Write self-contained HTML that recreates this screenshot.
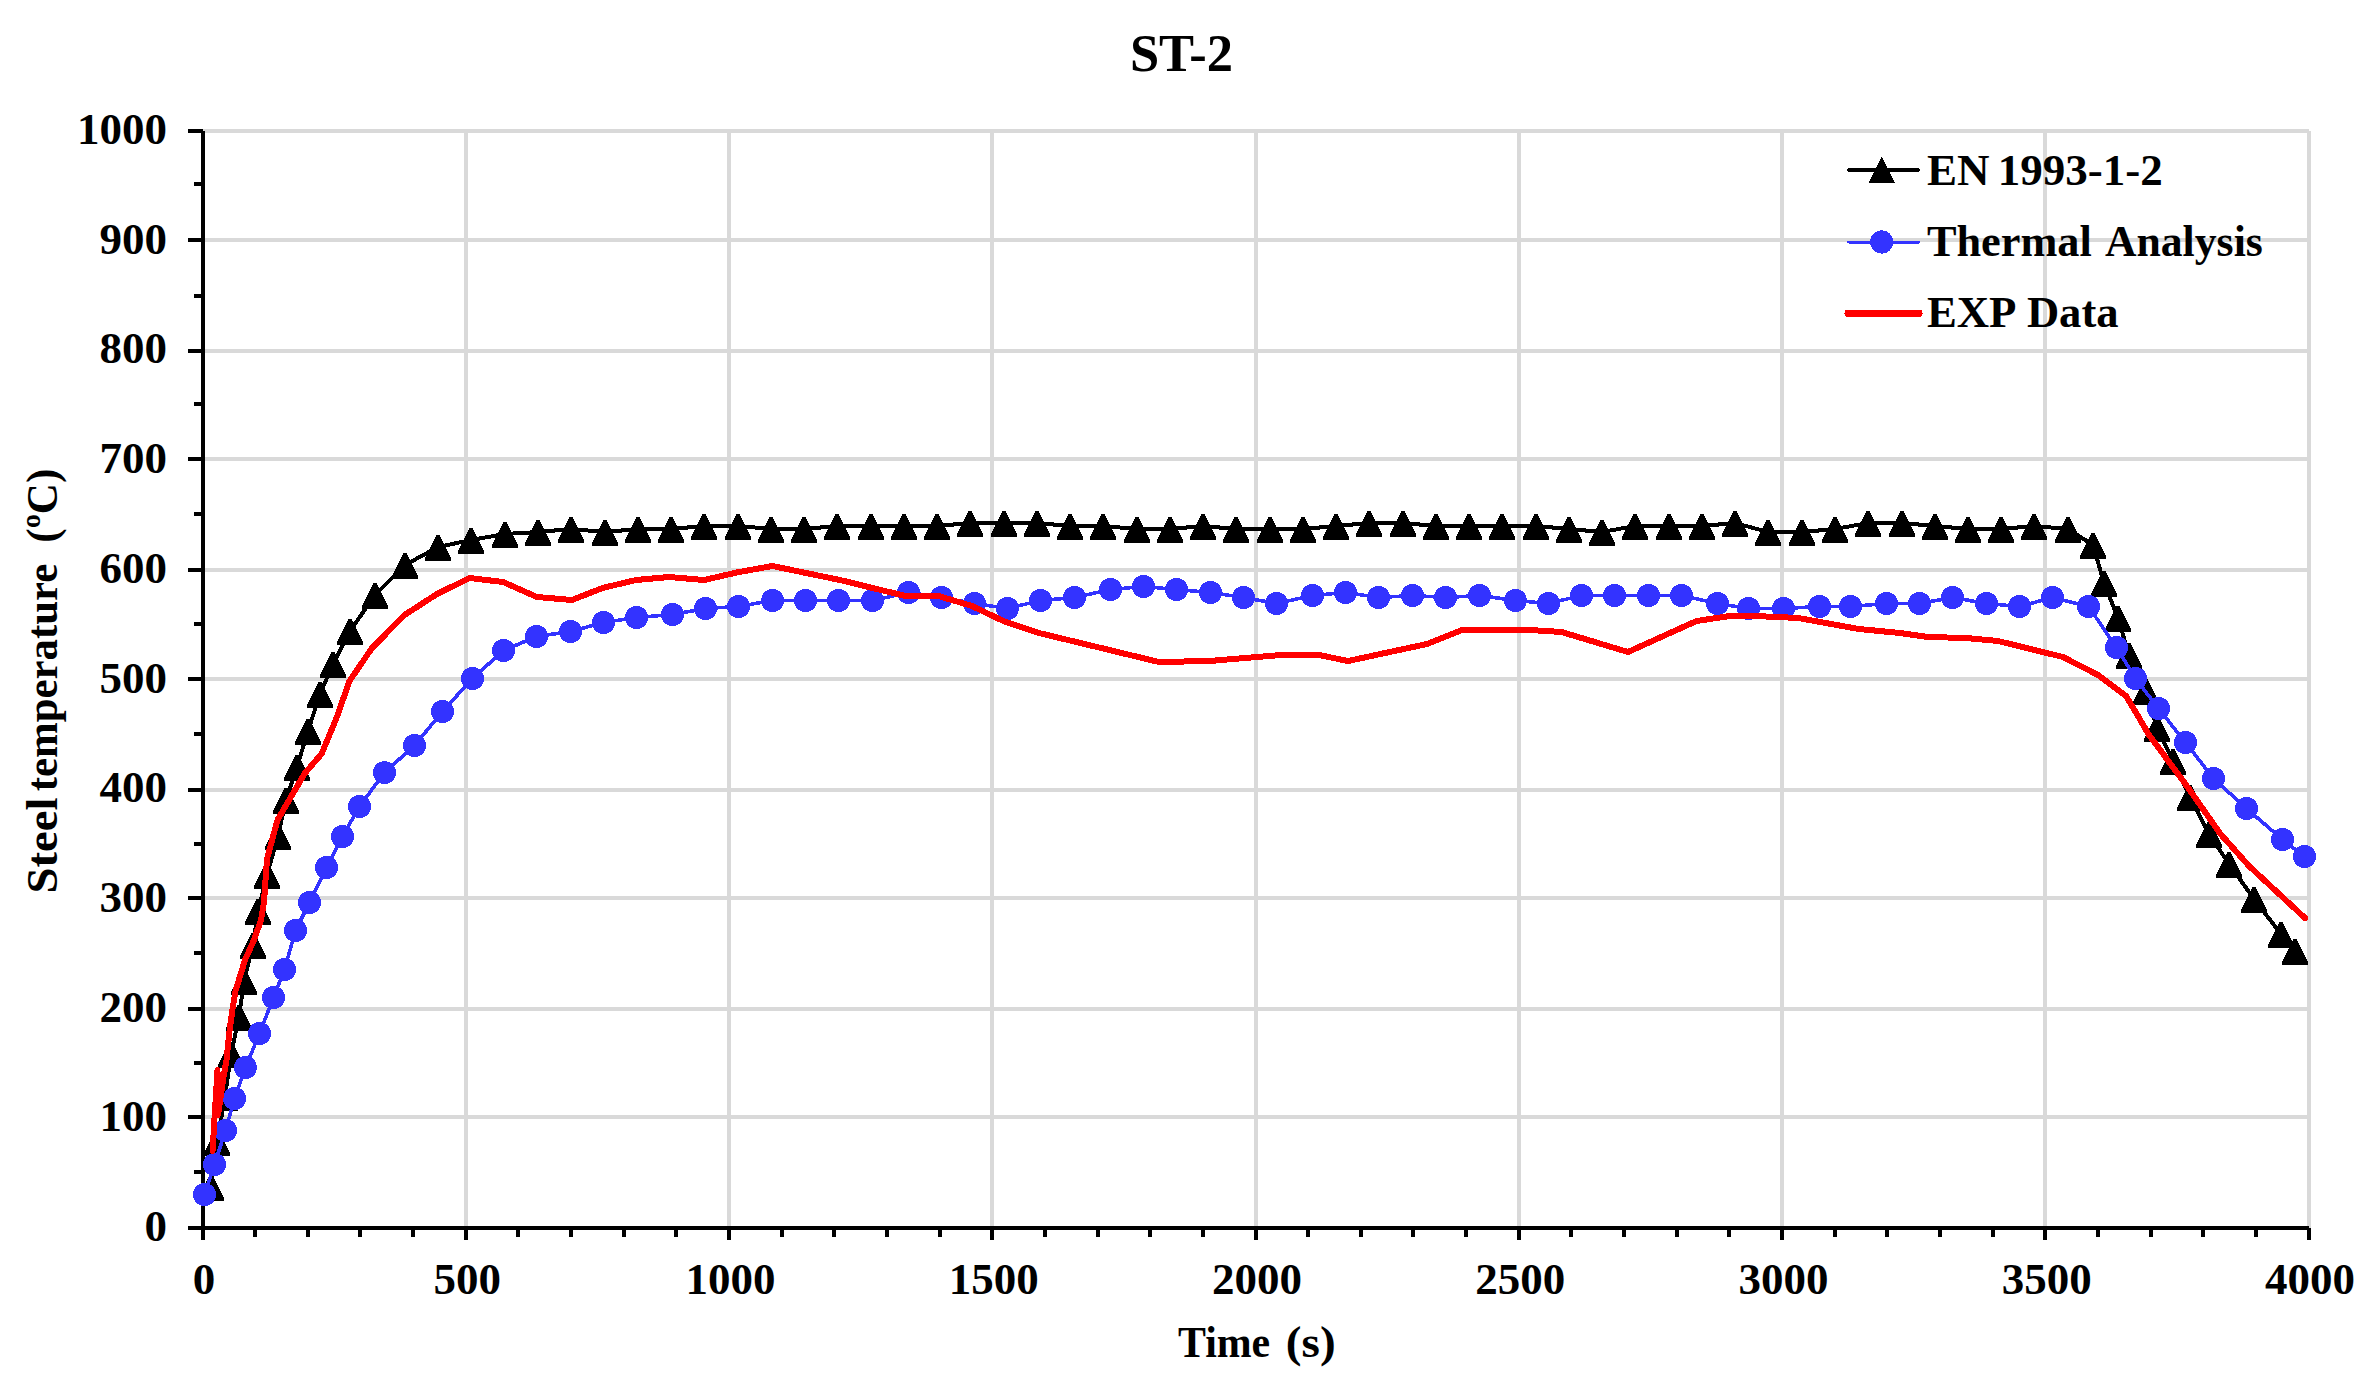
<!DOCTYPE html>
<html lang="en"><head><meta charset="utf-8"><title>ST-2</title>
<style>
html,body{margin:0;padding:0;background:#fff;}
body{width:2371px;height:1386px;overflow:hidden;}
svg{display:block;}
text{font-family:"Liberation Serif","Times New Roman",serif;font-weight:bold;fill:#000;}
.tk{font-size:45px;}.ls{letter-spacing:-0.25px;}
.grid line{stroke:#D9D9D9;stroke-width:4;}
.ax line{stroke:#000;stroke-width:4;}
</style></head><body>
<svg width="2371" height="1386" viewBox="0 0 2371 1386" shape-rendering="crispEdges">
<rect width="2371" height="1386" fill="#fff"/>
<g class="grid">
<line x1="203.0" y1="1117.0" x2="2309.0" y2="1117.0"/>
<line x1="203.0" y1="1009.0" x2="2309.0" y2="1009.0"/>
<line x1="203.0" y1="898.0" x2="2309.0" y2="898.0"/>
<line x1="203.0" y1="790.0" x2="2309.0" y2="790.0"/>
<line x1="203.0" y1="679.0" x2="2309.0" y2="679.0"/>
<line x1="203.0" y1="570.0" x2="2309.0" y2="570.0"/>
<line x1="203.0" y1="459.0" x2="2309.0" y2="459.0"/>
<line x1="203.0" y1="351.0" x2="2309.0" y2="351.0"/>
<line x1="203.0" y1="240.0" x2="2309.0" y2="240.0"/>
<line x1="203.0" y1="131.0" x2="2309.0" y2="131.0"/>
<line x1="466.0" y1="131.0" x2="466.0" y2="1228.0"/>
<line x1="729.0" y1="131.0" x2="729.0" y2="1228.0"/>
<line x1="992.0" y1="131.0" x2="992.0" y2="1228.0"/>
<line x1="1256.0" y1="131.0" x2="1256.0" y2="1228.0"/>
<line x1="1519.0" y1="131.0" x2="1519.0" y2="1228.0"/>
<line x1="1782.0" y1="131.0" x2="1782.0" y2="1228.0"/>
<line x1="2045.0" y1="131.0" x2="2045.0" y2="1228.0"/>
<line x1="2309.0" y1="131.0" x2="2309.0" y2="1228.0"/>
</g>
<g class="ax">
<line x1="203.0" y1="131.0" x2="203.0" y2="1240.0"/>
<line x1="188.0" y1="1228.0" x2="2309.0" y2="1228.0"/>
<line x1="188.0" y1="1228.0" x2="203.0" y2="1228.0"/>
<line x1="194.0" y1="1172.0" x2="203.0" y2="1172.0"/>
<line x1="188.0" y1="1117.0" x2="203.0" y2="1117.0"/>
<line x1="194.0" y1="1063.0" x2="203.0" y2="1063.0"/>
<line x1="188.0" y1="1009.0" x2="203.0" y2="1009.0"/>
<line x1="194.0" y1="953.0" x2="203.0" y2="953.0"/>
<line x1="188.0" y1="898.0" x2="203.0" y2="898.0"/>
<line x1="194.0" y1="844.0" x2="203.0" y2="844.0"/>
<line x1="188.0" y1="790.0" x2="203.0" y2="790.0"/>
<line x1="194.0" y1="734.0" x2="203.0" y2="734.0"/>
<line x1="188.0" y1="679.0" x2="203.0" y2="679.0"/>
<line x1="194.0" y1="624.0" x2="203.0" y2="624.0"/>
<line x1="188.0" y1="570.0" x2="203.0" y2="570.0"/>
<line x1="194.0" y1="514.0" x2="203.0" y2="514.0"/>
<line x1="188.0" y1="459.0" x2="203.0" y2="459.0"/>
<line x1="194.0" y1="404.0" x2="203.0" y2="404.0"/>
<line x1="188.0" y1="351.0" x2="203.0" y2="351.0"/>
<line x1="194.0" y1="296.0" x2="203.0" y2="296.0"/>
<line x1="188.0" y1="240.0" x2="203.0" y2="240.0"/>
<line x1="194.0" y1="184.0" x2="203.0" y2="184.0"/>
<line x1="188.0" y1="131.0" x2="203.0" y2="131.0"/>
<line x1="203.0" y1="1228.0" x2="203.0" y2="1240.0"/>
<line x1="255.0" y1="1228.0" x2="255.0" y2="1237.0"/>
<line x1="308.0" y1="1228.0" x2="308.0" y2="1237.0"/>
<line x1="360.0" y1="1228.0" x2="360.0" y2="1237.0"/>
<line x1="413.0" y1="1228.0" x2="413.0" y2="1237.0"/>
<line x1="466.0" y1="1228.0" x2="466.0" y2="1240.0"/>
<line x1="518.0" y1="1228.0" x2="518.0" y2="1237.0"/>
<line x1="571.0" y1="1228.0" x2="571.0" y2="1237.0"/>
<line x1="624.0" y1="1228.0" x2="624.0" y2="1237.0"/>
<line x1="676.0" y1="1228.0" x2="676.0" y2="1237.0"/>
<line x1="729.0" y1="1228.0" x2="729.0" y2="1240.0"/>
<line x1="782.0" y1="1228.0" x2="782.0" y2="1237.0"/>
<line x1="834.0" y1="1228.0" x2="834.0" y2="1237.0"/>
<line x1="887.0" y1="1228.0" x2="887.0" y2="1237.0"/>
<line x1="940.0" y1="1228.0" x2="940.0" y2="1237.0"/>
<line x1="992.0" y1="1228.0" x2="992.0" y2="1240.0"/>
<line x1="1045.0" y1="1228.0" x2="1045.0" y2="1237.0"/>
<line x1="1098.0" y1="1228.0" x2="1098.0" y2="1237.0"/>
<line x1="1150.0" y1="1228.0" x2="1150.0" y2="1237.0"/>
<line x1="1203.0" y1="1228.0" x2="1203.0" y2="1237.0"/>
<line x1="1256.0" y1="1228.0" x2="1256.0" y2="1240.0"/>
<line x1="1308.0" y1="1228.0" x2="1308.0" y2="1237.0"/>
<line x1="1361.0" y1="1228.0" x2="1361.0" y2="1237.0"/>
<line x1="1413.0" y1="1228.0" x2="1413.0" y2="1237.0"/>
<line x1="1466.0" y1="1228.0" x2="1466.0" y2="1237.0"/>
<line x1="1519.0" y1="1228.0" x2="1519.0" y2="1240.0"/>
<line x1="1571.0" y1="1228.0" x2="1571.0" y2="1237.0"/>
<line x1="1624.0" y1="1228.0" x2="1624.0" y2="1237.0"/>
<line x1="1677.0" y1="1228.0" x2="1677.0" y2="1237.0"/>
<line x1="1729.0" y1="1228.0" x2="1729.0" y2="1237.0"/>
<line x1="1782.0" y1="1228.0" x2="1782.0" y2="1240.0"/>
<line x1="1835.0" y1="1228.0" x2="1835.0" y2="1237.0"/>
<line x1="1887.0" y1="1228.0" x2="1887.0" y2="1237.0"/>
<line x1="1940.0" y1="1228.0" x2="1940.0" y2="1237.0"/>
<line x1="1993.0" y1="1228.0" x2="1993.0" y2="1237.0"/>
<line x1="2045.0" y1="1228.0" x2="2045.0" y2="1240.0"/>
<line x1="2098.0" y1="1228.0" x2="2098.0" y2="1237.0"/>
<line x1="2151.0" y1="1228.0" x2="2151.0" y2="1237.0"/>
<line x1="2203.0" y1="1228.0" x2="2203.0" y2="1237.0"/>
<line x1="2256.0" y1="1228.0" x2="2256.0" y2="1237.0"/>
<line x1="2309.0" y1="1228.0" x2="2309.0" y2="1240.0"/>
</g>
<g class="tk" text-anchor="end">
<text x="167" y="1241.0">0</text>
<text x="167" y="1131.3">100</text>
<text x="167" y="1021.6">200</text>
<text x="167" y="911.9">300</text>
<text x="167" y="802.2">400</text>
<text x="167" y="692.5">500</text>
<text x="167" y="582.8">600</text>
<text x="167" y="473.1">700</text>
<text x="167" y="363.4">800</text>
<text x="167" y="253.7">900</text>
<text x="167" y="144.0">1000</text>
</g>
<g class="tk" text-anchor="middle">
<text x="204.0" y="1294">0</text>
<text x="467.2" y="1294">500</text>
<text x="730.5" y="1294">1000</text>
<text x="993.8" y="1294">1500</text>
<text x="1257.0" y="1294">2000</text>
<text x="1520.2" y="1294">2500</text>
<text x="1783.5" y="1294">3000</text>
<text x="2046.8" y="1294">3500</text>
<text x="2310.0" y="1294">4000</text>
</g>
<text transform="translate(0,71.0)" font-size="52.5"><tspan x="1129.9">ST-2</tspan></text>
<text transform="translate(0,1357.0)" font-size="45"><tspan x="1178.0" textLength="92.2" lengthAdjust="spacingAndGlyphs">Time</tspan> <tspan x="1285.8" textLength="49.8" lengthAdjust="spacingAndGlyphs">(s)</tspan></text>
<text transform="translate(57.0,0) rotate(-90)" font-size="45"><tspan x="-893.5" textLength="95.9" lengthAdjust="spacingAndGlyphs">Steel</tspan> <tspan x="-791.2" textLength="227.4" lengthAdjust="spacingAndGlyphs">temperature</tspan> <tspan x="-542.7" textLength="73.9" lengthAdjust="spacingAndGlyphs">(ºC)</tspan></text>
<g>
<polyline fill="none" stroke="#000" stroke-width="4" stroke-linejoin="round" stroke-linecap="round" points="211.0,1187.0 217.0,1142.0 225.0,1097.0 231.0,1054.0 239.0,1017.0 244.0,981.0 253.0,945.0 258.0,911.0 267.0,875.0 278.0,836.0 286.0,800.0 297.0,767.0 308.0,731.0 320.0,694.0 333.0,664.0 350.0,631.0 375.0,595.0 405.0,565.0 438.0,547.0 471.0,540.0 505.0,534.0 538.0,532.0 571.0,529.0 605.0,532.0 638.0,529.0 671.0,529.0 704.0,526.0 738.0,526.0 771.0,529.0 804.0,529.0 837.0,526.0 871.0,526.0 904.0,526.0 937.0,526.0 970.0,523.0 1004.0,523.0 1037.0,523.0 1070.0,526.0 1103.0,526.0 1137.0,529.0 1170.0,529.0 1203.0,526.0 1236.0,529.0 1270.0,529.0 1303.0,529.0 1336.0,526.0 1369.0,523.0 1403.0,523.0 1436.0,526.0 1469.0,526.0 1502.0,526.0 1536.0,526.0 1569.0,529.0 1602.0,532.0 1635.0,526.0 1669.0,526.0 1702.0,526.0 1735.0,523.0 1768.0,532.0 1802.0,532.0 1835.0,529.0 1868.0,523.0 1902.0,523.0 1935.0,526.0 1968.0,529.0 2001.0,529.0 2034.0,526.0 2068.0,529.0 2093.0,545.0 2104.0,583.0 2118.0,618.0 2129.0,655.0 2146.0,691.0 2157.0,728.0 2173.0,761.0 2190.0,797.0 2209.0,834.0 2229.0,864.0 2254.0,899.0 2281.0,934.0 2295.0,951.0"/>
<path fill="#000" d="M209.5,1175.0 h3 l11.6,23.5 v2.5 h-26.2 v-2.5 z M215.5,1130.0 h3 l11.6,23.5 v2.5 h-26.2 v-2.5 z M223.5,1085.0 h3 l11.6,23.5 v2.5 h-26.2 v-2.5 z M229.5,1042.0 h3 l11.6,23.5 v2.5 h-26.2 v-2.5 z M237.5,1005.0 h3 l11.6,23.5 v2.5 h-26.2 v-2.5 z M242.5,969.0 h3 l11.6,23.5 v2.5 h-26.2 v-2.5 z M251.5,933.0 h3 l11.6,23.5 v2.5 h-26.2 v-2.5 z M256.5,899.0 h3 l11.6,23.5 v2.5 h-26.2 v-2.5 z M265.5,863.0 h3 l11.6,23.5 v2.5 h-26.2 v-2.5 z M276.5,824.0 h3 l11.6,23.5 v2.5 h-26.2 v-2.5 z M284.5,788.0 h3 l11.6,23.5 v2.5 h-26.2 v-2.5 z M295.5,755.0 h3 l11.6,23.5 v2.5 h-26.2 v-2.5 z M306.5,719.0 h3 l11.6,23.5 v2.5 h-26.2 v-2.5 z M318.5,682.0 h3 l11.6,23.5 v2.5 h-26.2 v-2.5 z M331.5,652.0 h3 l11.6,23.5 v2.5 h-26.2 v-2.5 z M348.5,619.0 h3 l11.6,23.5 v2.5 h-26.2 v-2.5 z M373.5,583.0 h3 l11.6,23.5 v2.5 h-26.2 v-2.5 z M403.5,553.0 h3 l11.6,23.5 v2.5 h-26.2 v-2.5 z M436.5,535.0 h3 l11.6,23.5 v2.5 h-26.2 v-2.5 z M469.5,528.0 h3 l11.6,23.5 v2.5 h-26.2 v-2.5 z M503.5,522.0 h3 l11.6,23.5 v2.5 h-26.2 v-2.5 z M536.5,520.0 h3 l11.6,23.5 v2.5 h-26.2 v-2.5 z M569.5,517.0 h3 l11.6,23.5 v2.5 h-26.2 v-2.5 z M603.5,520.0 h3 l11.6,23.5 v2.5 h-26.2 v-2.5 z M636.5,517.0 h3 l11.6,23.5 v2.5 h-26.2 v-2.5 z M669.5,517.0 h3 l11.6,23.5 v2.5 h-26.2 v-2.5 z M702.5,514.0 h3 l11.6,23.5 v2.5 h-26.2 v-2.5 z M736.5,514.0 h3 l11.6,23.5 v2.5 h-26.2 v-2.5 z M769.5,517.0 h3 l11.6,23.5 v2.5 h-26.2 v-2.5 z M802.5,517.0 h3 l11.6,23.5 v2.5 h-26.2 v-2.5 z M835.5,514.0 h3 l11.6,23.5 v2.5 h-26.2 v-2.5 z M869.5,514.0 h3 l11.6,23.5 v2.5 h-26.2 v-2.5 z M902.5,514.0 h3 l11.6,23.5 v2.5 h-26.2 v-2.5 z M935.5,514.0 h3 l11.6,23.5 v2.5 h-26.2 v-2.5 z M968.5,511.0 h3 l11.6,23.5 v2.5 h-26.2 v-2.5 z M1002.5,511.0 h3 l11.6,23.5 v2.5 h-26.2 v-2.5 z M1035.5,511.0 h3 l11.6,23.5 v2.5 h-26.2 v-2.5 z M1068.5,514.0 h3 l11.6,23.5 v2.5 h-26.2 v-2.5 z M1101.5,514.0 h3 l11.6,23.5 v2.5 h-26.2 v-2.5 z M1135.5,517.0 h3 l11.6,23.5 v2.5 h-26.2 v-2.5 z M1168.5,517.0 h3 l11.6,23.5 v2.5 h-26.2 v-2.5 z M1201.5,514.0 h3 l11.6,23.5 v2.5 h-26.2 v-2.5 z M1234.5,517.0 h3 l11.6,23.5 v2.5 h-26.2 v-2.5 z M1268.5,517.0 h3 l11.6,23.5 v2.5 h-26.2 v-2.5 z M1301.5,517.0 h3 l11.6,23.5 v2.5 h-26.2 v-2.5 z M1334.5,514.0 h3 l11.6,23.5 v2.5 h-26.2 v-2.5 z M1367.5,511.0 h3 l11.6,23.5 v2.5 h-26.2 v-2.5 z M1401.5,511.0 h3 l11.6,23.5 v2.5 h-26.2 v-2.5 z M1434.5,514.0 h3 l11.6,23.5 v2.5 h-26.2 v-2.5 z M1467.5,514.0 h3 l11.6,23.5 v2.5 h-26.2 v-2.5 z M1500.5,514.0 h3 l11.6,23.5 v2.5 h-26.2 v-2.5 z M1534.5,514.0 h3 l11.6,23.5 v2.5 h-26.2 v-2.5 z M1567.5,517.0 h3 l11.6,23.5 v2.5 h-26.2 v-2.5 z M1600.5,520.0 h3 l11.6,23.5 v2.5 h-26.2 v-2.5 z M1633.5,514.0 h3 l11.6,23.5 v2.5 h-26.2 v-2.5 z M1667.5,514.0 h3 l11.6,23.5 v2.5 h-26.2 v-2.5 z M1700.5,514.0 h3 l11.6,23.5 v2.5 h-26.2 v-2.5 z M1733.5,511.0 h3 l11.6,23.5 v2.5 h-26.2 v-2.5 z M1766.5,520.0 h3 l11.6,23.5 v2.5 h-26.2 v-2.5 z M1800.5,520.0 h3 l11.6,23.5 v2.5 h-26.2 v-2.5 z M1833.5,517.0 h3 l11.6,23.5 v2.5 h-26.2 v-2.5 z M1866.5,511.0 h3 l11.6,23.5 v2.5 h-26.2 v-2.5 z M1900.5,511.0 h3 l11.6,23.5 v2.5 h-26.2 v-2.5 z M1933.5,514.0 h3 l11.6,23.5 v2.5 h-26.2 v-2.5 z M1966.5,517.0 h3 l11.6,23.5 v2.5 h-26.2 v-2.5 z M1999.5,517.0 h3 l11.6,23.5 v2.5 h-26.2 v-2.5 z M2032.5,514.0 h3 l11.6,23.5 v2.5 h-26.2 v-2.5 z M2066.5,517.0 h3 l11.6,23.5 v2.5 h-26.2 v-2.5 z M2091.5,533.0 h3 l11.6,23.5 v2.5 h-26.2 v-2.5 z M2102.5,571.0 h3 l11.6,23.5 v2.5 h-26.2 v-2.5 z M2116.5,606.0 h3 l11.6,23.5 v2.5 h-26.2 v-2.5 z M2127.5,643.0 h3 l11.6,23.5 v2.5 h-26.2 v-2.5 z M2144.5,679.0 h3 l11.6,23.5 v2.5 h-26.2 v-2.5 z M2155.5,716.0 h3 l11.6,23.5 v2.5 h-26.2 v-2.5 z M2171.5,749.0 h3 l11.6,23.5 v2.5 h-26.2 v-2.5 z M2188.5,785.0 h3 l11.6,23.5 v2.5 h-26.2 v-2.5 z M2207.5,822.0 h3 l11.6,23.5 v2.5 h-26.2 v-2.5 z M2227.5,852.0 h3 l11.6,23.5 v2.5 h-26.2 v-2.5 z M2252.5,887.0 h3 l11.6,23.5 v2.5 h-26.2 v-2.5 z M2279.5,922.0 h3 l11.6,23.5 v2.5 h-26.2 v-2.5 z M2293.5,939.0 h3 l11.6,23.5 v2.5 h-26.2 v-2.5 z"/>
</g>
<g>
<polyline fill="none" stroke="#3333FF" stroke-width="3.6" stroke-linejoin="round" stroke-linecap="round" points="204.5,1194.5 214.5,1164.5 225.5,1130.5 234.5,1098.5 245.5,1067.5 259.5,1033.5 273.5,997.5 284.5,969.5 295.5,930.5 309.5,902.5 326.5,867.5 342.5,836.5 359.5,806.5 384.5,772.5 414.5,745.5 442.5,711.5 472.5,678.5 503.5,650.5 536.5,636.5 570.5,631.5 603.5,622.5 636.5,617.5 672.5,614.5 705.5,608.5 738.5,606.5 772.5,600.5 805.5,600.5 838.5,600.5 872.5,600.5 908.5,592.5 941.5,597.5 974.5,603.5 1007.5,608.5 1040.5,600.5 1074.5,597.5 1110.5,589.5 1143.5,586.5 1176.5,589.5 1210.5,592.5 1243.5,597.5 1276.5,603.5 1312.5,595.5 1345.5,592.5 1378.5,597.5 1412.5,595.5 1445.5,597.5 1479.5,595.5 1515.5,600.5 1548.5,603.5 1581.5,595.5 1614.5,595.5 1648.5,595.5 1681.5,595.5 1717.5,603.5 1748.5,608.5 1783.5,608.5 1819.5,606.5 1850.5,606.5 1886.5,603.5 1919.5,603.5 1952.5,597.5 1986.5,603.5 2019.5,606.5 2052.5,597.5 2088.5,606.5 2116.5,647.5 2135.5,678.5 2158.5,708.5 2185.5,742.5 2213.5,778.5 2246.5,808.5 2282.5,839.5 2304.5,856.5"/>
<g fill="#3333FF">
<circle cx="204.5" cy="1194.5" r="11.5"/>
<circle cx="214.5" cy="1164.5" r="11.5"/>
<circle cx="225.5" cy="1130.5" r="11.5"/>
<circle cx="234.5" cy="1098.5" r="11.5"/>
<circle cx="245.5" cy="1067.5" r="11.5"/>
<circle cx="259.5" cy="1033.5" r="11.5"/>
<circle cx="273.5" cy="997.5" r="11.5"/>
<circle cx="284.5" cy="969.5" r="11.5"/>
<circle cx="295.5" cy="930.5" r="11.5"/>
<circle cx="309.5" cy="902.5" r="11.5"/>
<circle cx="326.5" cy="867.5" r="11.5"/>
<circle cx="342.5" cy="836.5" r="11.5"/>
<circle cx="359.5" cy="806.5" r="11.5"/>
<circle cx="384.5" cy="772.5" r="11.5"/>
<circle cx="414.5" cy="745.5" r="11.5"/>
<circle cx="442.5" cy="711.5" r="11.5"/>
<circle cx="472.5" cy="678.5" r="11.5"/>
<circle cx="503.5" cy="650.5" r="11.5"/>
<circle cx="536.5" cy="636.5" r="11.5"/>
<circle cx="570.5" cy="631.5" r="11.5"/>
<circle cx="603.5" cy="622.5" r="11.5"/>
<circle cx="636.5" cy="617.5" r="11.5"/>
<circle cx="672.5" cy="614.5" r="11.5"/>
<circle cx="705.5" cy="608.5" r="11.5"/>
<circle cx="738.5" cy="606.5" r="11.5"/>
<circle cx="772.5" cy="600.5" r="11.5"/>
<circle cx="805.5" cy="600.5" r="11.5"/>
<circle cx="838.5" cy="600.5" r="11.5"/>
<circle cx="872.5" cy="600.5" r="11.5"/>
<circle cx="908.5" cy="592.5" r="11.5"/>
<circle cx="941.5" cy="597.5" r="11.5"/>
<circle cx="974.5" cy="603.5" r="11.5"/>
<circle cx="1007.5" cy="608.5" r="11.5"/>
<circle cx="1040.5" cy="600.5" r="11.5"/>
<circle cx="1074.5" cy="597.5" r="11.5"/>
<circle cx="1110.5" cy="589.5" r="11.5"/>
<circle cx="1143.5" cy="586.5" r="11.5"/>
<circle cx="1176.5" cy="589.5" r="11.5"/>
<circle cx="1210.5" cy="592.5" r="11.5"/>
<circle cx="1243.5" cy="597.5" r="11.5"/>
<circle cx="1276.5" cy="603.5" r="11.5"/>
<circle cx="1312.5" cy="595.5" r="11.5"/>
<circle cx="1345.5" cy="592.5" r="11.5"/>
<circle cx="1378.5" cy="597.5" r="11.5"/>
<circle cx="1412.5" cy="595.5" r="11.5"/>
<circle cx="1445.5" cy="597.5" r="11.5"/>
<circle cx="1479.5" cy="595.5" r="11.5"/>
<circle cx="1515.5" cy="600.5" r="11.5"/>
<circle cx="1548.5" cy="603.5" r="11.5"/>
<circle cx="1581.5" cy="595.5" r="11.5"/>
<circle cx="1614.5" cy="595.5" r="11.5"/>
<circle cx="1648.5" cy="595.5" r="11.5"/>
<circle cx="1681.5" cy="595.5" r="11.5"/>
<circle cx="1717.5" cy="603.5" r="11.5"/>
<circle cx="1748.5" cy="608.5" r="11.5"/>
<circle cx="1783.5" cy="608.5" r="11.5"/>
<circle cx="1819.5" cy="606.5" r="11.5"/>
<circle cx="1850.5" cy="606.5" r="11.5"/>
<circle cx="1886.5" cy="603.5" r="11.5"/>
<circle cx="1919.5" cy="603.5" r="11.5"/>
<circle cx="1952.5" cy="597.5" r="11.5"/>
<circle cx="1986.5" cy="603.5" r="11.5"/>
<circle cx="2019.5" cy="606.5" r="11.5"/>
<circle cx="2052.5" cy="597.5" r="11.5"/>
<circle cx="2088.5" cy="606.5" r="11.5"/>
<circle cx="2116.5" cy="647.5" r="11.5"/>
<circle cx="2135.5" cy="678.5" r="11.5"/>
<circle cx="2158.5" cy="708.5" r="11.5"/>
<circle cx="2185.5" cy="742.5" r="11.5"/>
<circle cx="2213.5" cy="778.5" r="11.5"/>
<circle cx="2246.5" cy="808.5" r="11.5"/>
<circle cx="2282.5" cy="839.5" r="11.5"/>
<circle cx="2304.5" cy="856.5" r="11.5"/>
</g></g>
<polyline fill="none" stroke="#FF0000" stroke-width="6" stroke-linejoin="round" stroke-linecap="round" points="212.5,1151.0 217.5,1070.0 218.0,1115.0 223.0,1080.0 226.5,1060.0 229.5,1031.0 232.5,1009.0 235.5,991.0 245.0,960.0 254.0,940.0 261.0,920.0 264.0,902.0 267.0,859.0 277.5,820.0 295.0,790.0 305.0,773.0 321.5,754.0 336.5,718.0 349.5,681.0 372.0,648.0 404.5,615.0 437.0,594.0 469.5,578.0 503.0,582.0 537.0,597.0 572.0,600.0 602.5,588.0 636.0,580.0 669.0,577.0 704.0,580.0 739.0,572.0 772.5,566.0 806.0,573.0 840.0,580.0 905.5,596.0 938.5,596.0 972.0,606.0 1005.5,622.0 1039.0,633.0 1159.0,662.0 1209.5,661.0 1281.0,655.0 1319.0,655.0 1348.0,661.0 1427.0,644.0 1462.0,630.0 1530.0,630.0 1561.5,632.0 1628.0,652.0 1696.5,621.0 1730.0,616.0 1755.5,616.0 1798.0,618.0 1859.0,629.0 1900.0,633.0 1928.0,637.0 1966.0,638.0 1998.0,641.0 2063.0,657.0 2098.0,675.0 2126.0,696.0 2134.5,710.0 2149.0,735.0 2184.0,782.0 2220.5,834.0 2249.0,866.0 2305.0,918.0"/>
<g>
<line x1="1849.5" y1="170" x2="1917.5" y2="170" stroke="#000" stroke-width="4.4" stroke-linecap="round"/>
<path fill="#000" d="M1881.7,156.5 L1894.9,182.7 L1868.5,182.7 z"/>
<text transform="translate(0,185.0)" font-size="45"><tspan x="1926.9">EN</tspan> <tspan x="1997.7">1993-1-2</tspan></text>
<line x1="1848.5" y1="242" x2="1918.5" y2="242" stroke="#3333FF" stroke-width="3" stroke-linecap="round"/>
<circle cx="1881.7" cy="242" r="11.6" fill="#3333FF"/>
<text transform="translate(0,256.0)" font-size="45"><tspan x="1926.9" textLength="164.9" lengthAdjust="spacingAndGlyphs">Thermal</tspan> <tspan x="2104.9" textLength="157.9" lengthAdjust="spacingAndGlyphs">Analysis</tspan></text>
<line x1="1848" y1="313.3" x2="1919" y2="313.3" stroke="#FF0000" stroke-width="7.2" stroke-linecap="round"/>
<text transform="translate(0,327.0)" font-size="45"><tspan x="1926.9" textLength="87.1" lengthAdjust="spacingAndGlyphs">EXP</tspan> <tspan x="2026.9" textLength="91.7" lengthAdjust="spacingAndGlyphs">Data</tspan></text>
</g>
</svg>
</body></html>
